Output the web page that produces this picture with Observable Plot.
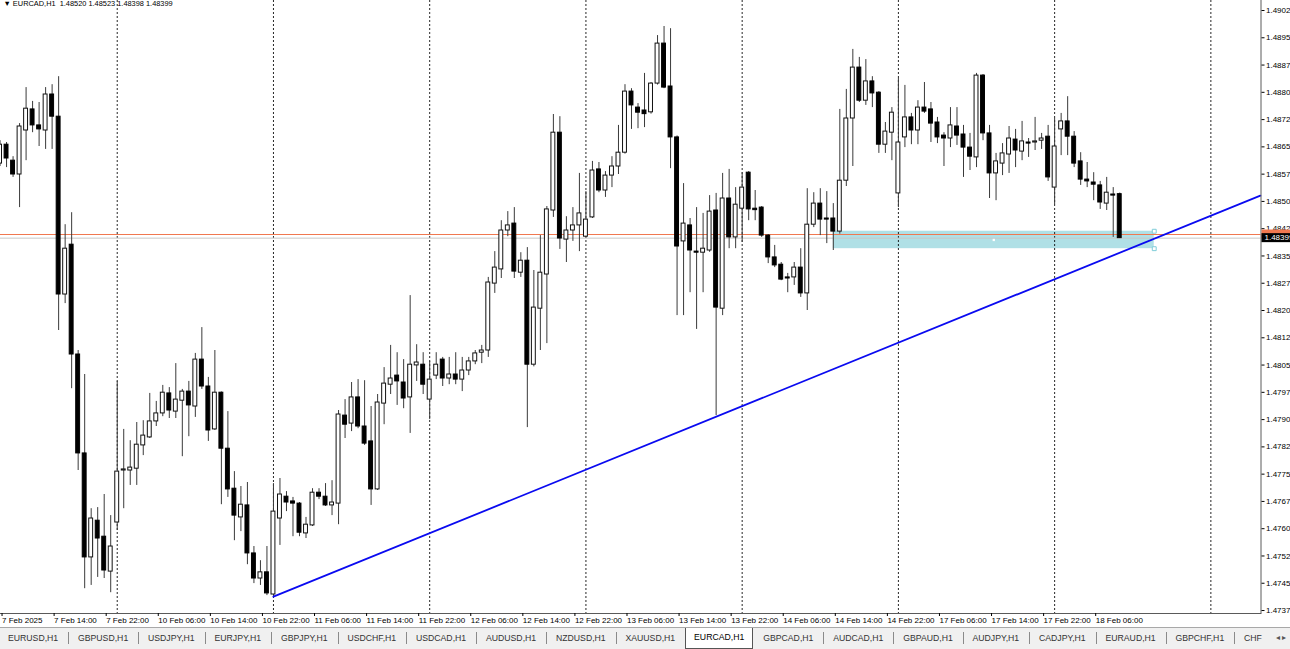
<!DOCTYPE html>
<html>
<head>
<meta charset="utf-8">
<script src="https://cdn.jsdelivr.net/npm/d3@7"></script>
<script src="https://cdn.jsdelivr.net/npm/@observablehq/plot@0.6"></script>
<style>
html,body{margin:0;padding:0;background:#fff;width:1290px;height:649px;overflow:hidden;font-family:"Liberation Sans",Arial,sans-serif;}
#chart{position:absolute;left:0;top:0;width:1290px;height:627px;}
#tabs{position:absolute;left:0;top:627px;width:1290px;height:22px;background:#f0f0f0;border-top:1px solid #a8a8a8;box-sizing:border-box;display:flex;align-items:stretch;white-space:nowrap;overflow:hidden;}
.tab{font-size:8.7px;color:#333;padding:0 9.9px;line-height:20px;position:relative;}
.tab:first-child{padding-left:8px;}
.tab.sep::before{content:"";position:absolute;left:0;top:4px;height:12px;border-left:1px solid #8a8a8a;}
.tab.active{background:#fff;border:1px solid #555;border-top:none;margin-top:-1px;line-height:21px;color:#000;padding:0 8px;}
.arrows{font-size:8px;line-height:20px;color:#555;padding-left:4px;}
</style>
</head>
<body>
<div id="chart"></div>
<div id="tabs"></div>
<script>
// ---- data (EURCAD H1, bars from 7 Feb 2025 06:00) ----
const symbol = "EURCAD,H1";
const openP = [1.48604,1.48656,1.48612,1.48574,1.48695,1.48753,1.48709,1.48695,1.48794,1.48733,1.48244,1.48381,1.48079,1.47807,1.47521,1.47622,1.47578,1.47482,
1.47617,1.47760,1.47760,1.47765,1.47829,1.47851,1.47895,1.47917,1.47972,1.47922,1.47952,1.47977,1.47936,1.48065,1.47991,1.47873,1.47974,1.47820,1.47710,1.47631,1.47664,1.47532,1.47463,1.47480,
1.47419,1.47628,1.47688,1.47675,1.47669,1.47587,1.47609,1.47699,1.47688,1.47664,1.47669,1.47911,1.47889,1.47961,1.47881,1.47840,1.47708,1.47944,1.47996,1.48021,1.48002,1.47961,1.48049,1.48051,
1.47955,1.48021,1.48065,1.48013,1.48024,1.48010,1.48035,1.48060,1.48084,1.48090,1.48274,1.48313,1.48420,1.48439,1.48304,1.48337,1.48051,1.48205,1.48299,1.48475,1.48689,1.48395,1.48420,1.48434,
1.48403,1.48456,1.48588,1.48530,1.48571,1.48596,1.48634,1.48802,1.48758,1.48750,1.48745,1.48824,1.48934,1.48816,1.48676,1.48390,1.48434,1.48362,1.48359,1.48365,1.48475,1.48205,1.48508,1.48401,
1.48480,1.48579,1.48480,1.48483,1.48406,1.48346,1.48326,1.48291,1.48291,1.48318,1.48247,1.48436,1.48494,1.48453,1.48453,1.48417,1.48557,1.48728,1.48868,1.48777,1.48830,1.48799,1.48656,1.48689,
1.48522,1.48676,1.48731,1.48695,1.48758,1.48753,1.48717,1.48681,1.48673,1.48706,1.48684,1.48648,1.48621,1.48846,1.48687,1.48577,1.48604,1.48629,1.48670,1.48637,1.48662,1.48662,1.48667,1.48678,
1.48538,1.48698,1.48720,1.48678,1.48610,1.48560,1.48552,1.48544,1.48494,1.48519,1.48520];
const highP = [1.48667,1.48662,1.48623,1.48714,1.48813,1.48775,1.48772,1.48813,1.48821,1.48843,1.48436,1.48469,1.48090,1.48024,1.47655,1.47658,1.47694,1.47636,
1.48005,1.47873,1.47842,1.47892,1.47897,1.47972,1.47950,1.47994,1.47988,1.48054,1.47983,1.48005,1.48082,1.48153,1.48016,1.48090,1.47976,1.47922,1.47757,1.47716,1.47727,1.47551,1.47512,1.47551,
1.47724,1.47738,1.47702,1.47686,1.47672,1.47631,1.47710,1.47710,1.47724,1.47732,1.47925,1.47955,1.48002,1.48010,1.48007,1.47936,1.47969,1.48043,1.48104,1.48084,1.48065,1.48241,1.48106,1.48084,
1.48060,1.48084,1.48071,1.48071,1.48084,1.48071,1.48071,1.48090,1.48104,1.48291,1.48362,1.48447,1.48472,1.48483,1.48359,1.48373,1.48310,1.48406,1.48486,1.48739,1.48733,1.48458,1.48483,1.48577,
1.48527,1.48610,1.48607,1.48582,1.48623,1.48709,1.48821,1.48810,1.48769,1.48852,1.48827,1.48956,1.48981,1.48975,1.48680,1.48549,1.48453,1.48483,1.48467,1.48516,1.48522,1.48577,1.48588,1.48538,
1.48579,1.48582,1.48530,1.48486,1.48409,1.48379,1.48332,1.48302,1.48332,1.48370,1.48535,1.48524,1.48535,1.48527,1.48494,1.48753,1.48808,1.48918,1.48896,1.48890,1.48843,1.48802,1.48717,1.48758,
1.48838,1.48819,1.48742,1.48777,1.48827,1.48772,1.48731,1.48689,1.48758,1.48758,1.48709,1.48687,1.48852,1.48849,1.48709,1.48632,1.48659,1.48706,1.48698,1.48720,1.48673,1.48731,1.48687,1.48709,
1.48728,1.48742,1.48788,1.48692,1.48634,1.48607,1.48579,1.48555,1.48566,1.48538,1.48523];
const lowP = [1.48596,1.48593,1.48566,1.48483,1.48612,1.48689,1.48651,1.48643,1.48643,1.48145,1.48219,1.47985,1.47760,1.47435,1.47444,1.47466,1.47463,1.47424,
1.47595,1.47655,1.47719,1.47719,1.47801,1.47848,1.47881,1.47908,1.47903,1.47903,1.47798,1.47853,1.47906,1.47983,1.47840,1.47870,1.47666,1.47686,1.47567,1.47592,1.47501,1.47449,1.47444,1.47416,
1.47413,1.47554,1.47647,1.47578,1.47578,1.47573,1.47606,1.47680,1.47661,1.47636,1.47611,1.47848,1.47867,1.47875,1.47829,1.47664,1.47705,1.47886,1.47969,1.47939,1.47930,1.47862,1.48005,1.47969,
1.47900,1.48010,1.47991,1.47996,1.47996,1.47977,1.48021,1.48051,1.48054,1.48071,1.48247,1.48288,1.48403,1.48288,1.48291,1.47878,1.48045,1.48090,1.48109,1.48456,1.48368,1.48332,1.48390,1.48362,
1.48400,1.48453,1.48524,1.48511,1.48538,1.48574,1.48630,1.48698,1.48700,1.48703,1.48740,1.48820,1.48810,1.48590,1.48186,1.48186,1.48249,1.48148,1.48249,1.48360,1.47911,1.48186,1.48370,1.48370,
1.48387,1.48447,1.48447,1.48401,1.48329,1.48318,1.48282,1.48249,1.48269,1.48236,1.48200,1.48428,1.48406,1.48384,1.48365,1.48410,1.48541,1.48596,1.48772,1.48764,1.48758,1.48632,1.48632,1.48612,
1.48483,1.48648,1.48656,1.48656,1.48742,1.48662,1.48659,1.48596,1.48648,1.48654,1.48566,1.48585,1.48593,1.48667,1.48508,1.48502,1.48571,1.48577,1.48593,1.48612,1.48621,1.48640,1.48643,1.48555,
1.48491,1.48626,1.48626,1.48593,1.48544,1.48538,1.48502,1.48478,1.48475,1.48401,1.48398];
const closeP = [1.48656,1.48618,1.48574,1.48706,1.48755,1.48709,1.48698,1.48794,1.48733,1.48244,1.48370,1.48079,1.47807,1.47521,1.47628,1.47573,1.47485,1.47551,
1.47757,1.47763,1.47768,1.47831,1.47856,1.47895,1.47917,1.47974,1.47925,1.47955,1.47977,1.47939,1.48065,1.47991,1.47870,1.47974,1.47820,1.47708,1.47636,1.47666,1.47532,1.47463,1.47480,1.47422,
1.47647,1.47694,1.47672,1.47669,1.47589,1.47611,1.47699,1.47688,1.47664,1.47672,1.47914,1.47886,1.47961,1.47881,1.47834,1.47708,1.47947,1.47999,1.48013,1.48005,1.47958,1.48051,1.48057,1.47996,
1.48010,1.48051,1.48013,1.48024,1.48010,1.48035,1.48060,1.48082,1.48090,1.48277,1.48318,1.48420,1.48434,1.48307,1.48337,1.48051,1.48208,1.48304,1.48478,1.48689,1.48398,1.48420,1.48434,1.48467,
1.48450,1.48585,1.48530,1.48571,1.48596,1.48634,1.48802,1.48764,1.48744,1.48740,1.48824,1.48934,1.48813,1.48676,1.48376,1.48439,1.48365,1.48359,1.48370,1.48472,1.48208,1.48508,1.48401,1.48491,
1.48538,1.48478,1.48476,1.48406,1.48346,1.48324,1.48285,1.48288,1.48318,1.48247,1.48436,1.48494,1.48450,1.48450,1.48417,1.48557,1.48728,1.48868,1.48777,1.48830,1.48797,1.48656,1.48692,1.48744,
1.48662,1.48731,1.48695,1.48758,1.48747,1.48714,1.48676,1.48673,1.48709,1.48681,1.48648,1.48623,1.48846,1.48687,1.48577,1.48610,1.48632,1.48673,1.48640,1.48665,1.48659,1.48665,1.48673,1.48566,
1.48651,1.48720,1.48678,1.48604,1.48560,1.48555,1.48546,1.48497,1.48524,1.48516,1.48399];

const timeLabelBars = [0,8,16,24,32,40,48,56,64,72,80,88,96,104,112,120,128,136,144,152,160,168];
const timeLabels = ["7 Feb 2025","7 Feb 14:00","7 Feb 22:00","10 Feb 06:00","10 Feb 14:00","10 Feb 22:00",
  "11 Feb 06:00","11 Feb 14:00","11 Feb 22:00","12 Feb 06:00","12 Feb 14:00","12 Feb 22:00",
  "13 Feb 06:00","13 Feb 14:00","13 Feb 22:00","14 Feb 06:00","14 Feb 14:00","14 Feb 22:00",
  "17 Feb 06:00","17 Feb 14:00","17 Feb 22:00","18 Feb 06:00"];
const dayStartBars = [18,42,66,90,114,138,162,186];
const priceTicks = [1.49025,1.48950,1.48875,1.48800,1.48725,1.48650,1.48575,1.48500,1.48425,1.48350,1.48275,1.48200,
  1.48125,1.48050,1.47975,1.47900,1.47825,1.47750,1.47675,1.47600,1.47525,1.47450,1.47375];
const bidPrice = 1.48399;
const askPrice = 1.48409;
const trendBars = [42, 193.6];
const trendPrices = [1.47413, 1.48516];
const zoneBars = [128, 177.3];
const zonePrices = [1.48370, 1.48418];
const visibleBars = [0.07, 193.7];
const visiblePrices = [1.473668, 1.490525];
const tabNames = ["EURUSD,H1","GBPUSD,H1","USDJPY,H1","EURJPY,H1","GBPJPY,H1","USDCHF,H1","USDCAD,H1","AUDUSD,H1",
  "NZDUSD,H1","XAUUSD,H1","EURCAD,H1","GBPCAD,H1","AUDCAD,H1","GBPAUD,H1","AUDJPY,H1","CADJPY,H1","EURAUD,H1","GBPCHF,H1","CHF"];
const activeTab = "EURCAD,H1";

// ---- build ----
const bars = openP.map((o, i) => ({i, o, h: highP[i], l: lowP[i], c: closeP[i]}));
const bulls = bars.filter(d => d.c >= d.o);
const bears = bars.filter(d => d.c < d.o);
const trend = trendBars.map((b, j) => ({b, p: trendPrices[j]}));
const zone = [{b1: zoneBars[0], b2: zoneBars[1], p1: zonePrices[0], p2: zonePrices[1]}];
const zoneHandles = [{b: zoneBars[1], p: zonePrices[0]}, {b: zoneBars[1], p: zonePrices[1]}];
const zoneCenter = [{b: (zoneBars[0] + zoneBars[1]) / 2, p: (zonePrices[0] + zonePrices[1]) / 2}];
const labelOf = new Map(timeLabelBars.map((b, j) => [b, timeLabels[j]]));
const last = bars[bars.length - 1];
const title = `\u25BC ${symbol}  ${last.o.toFixed(5)} ${last.h.toFixed(5)} ${last.l.toFixed(5)} ${last.c.toFixed(5)}`;
const half = 0.3;

const chart = Plot.plot({
  width: 1290, height: 627,
  marginLeft: 0, marginRight: 29.5, marginTop: 0, marginBottom: 14,
  x: {type: "linear", domain: visibleBars},
  y: {type: "linear", domain: visiblePrices},
  style: {fontFamily: "'Liberation Sans', Arial, sans-serif", fontSize: "8px", background: "#fff", color: "#000", overflow: "visible"},
  marks: [
    Plot.rect(zone, {x1: "b1", x2: "b2", y1: "p1", y2: "p2", fill: "#b0e0e6"}),
    Plot.ruleX(dayStartBars, {stroke: "#000", strokeDasharray: "2,2", strokeWidth: 1, strokeOpacity: 0.85}),
    Plot.ruleY([bidPrice], {stroke: "#c8c8c8", strokeWidth: 1}),
    Plot.ruleY([askPrice], {stroke: "#f07850", strokeWidth: 1}),
    Plot.ruleX(bars, {x: "i", y1: "l", y2: "h", stroke: "#3a3a3a", strokeWidth: 1}),
    Plot.rect(bulls, {x1: d => d.i - half, x2: d => d.i + half, y1: "o", y2: "c", fill: "#fff", stroke: "#111", strokeWidth: 1}),
    Plot.rect(bears, {x1: d => d.i - half, x2: d => d.i + half, y1: "o", y2: "c", fill: "#000", stroke: "#000", strokeWidth: 1}),
    Plot.line(trend, {x: "b", y: "p", stroke: "#0a0af0", strokeWidth: 1.8}),
    Plot.dot(zoneHandles, {x: "b", y: "p", symbol: "square", r: 2.2, fill: "#fff", stroke: "#7fcdd8", strokeWidth: 1}),
    Plot.dot(zoneCenter, {x: "b", y: "p", symbol: "square", r: 1.3, fill: "#fff", stroke: "none"}),
    Plot.frame({stroke: "#5a5a5a", strokeWidth: 1, insetTop: -6, insetLeft: -6}),
    Plot.axisY({anchor: "right", ticks: priceTicks, tickFormat: d => d.toFixed(5), tickSize: 3, tickPadding: 2, fontSize: 8}),
    Plot.axisX({anchor: "bottom", ticks: timeLabelBars, tickFormat: d => labelOf.get(d), tickSize: 3, tickPadding: 1, textAnchor: "start", dx: 2, fontSize: 8}),
    Plot.text([title], {frameAnchor: "top-left", dx: 3, dy: 0, lineAnchor: "top", textAnchor: "start", fontSize: 7.4, fill: "#000"})
  ]
});
document.getElementById("chart").appendChild(chart);

// price tags on the right scale
const ys = chart.scale("y");
const xs = chart.scale("x");
const xr = xs.range[1];
const svg = d3.select(chart);
[{p: askPrice, bg: "#f07850", fg: "#000", text: false}, {p: bidPrice, bg: "#000", fg: "#fff", text: true}].forEach(t => {
  const yy = ys.apply(t.p);
  svg.append("rect").attr("x", xr + 1).attr("y", yy - 4.5).attr("width", 40).attr("height", 9).attr("fill", t.bg);
  if (t.text) svg.append("text").attr("x", xr + 4).attr("y", yy).attr("dy", "0.34em")
    .attr("text-anchor", "start").attr("fill", t.fg).attr("font-size", 8)
    .attr("font-family", "'Liberation Sans', Arial, sans-serif").text(t.p.toFixed(5));
});

// tab bar
const tabsDiv = document.getElementById("tabs");
tabNames.forEach((name, j) => {
  const s = document.createElement("span");
  s.className = "tab";
  if (name === activeTab) s.classList.add("active");
  else if (j > 0 && tabNames[j - 1] !== activeTab) s.classList.add("sep");
  s.textContent = name;
  tabsDiv.appendChild(s);
});
const arr = document.createElement("span");
arr.className = "arrows";
arr.textContent = "\u25C2 \u25B8";
tabsDiv.appendChild(arr);
</script>
</body>
</html>
